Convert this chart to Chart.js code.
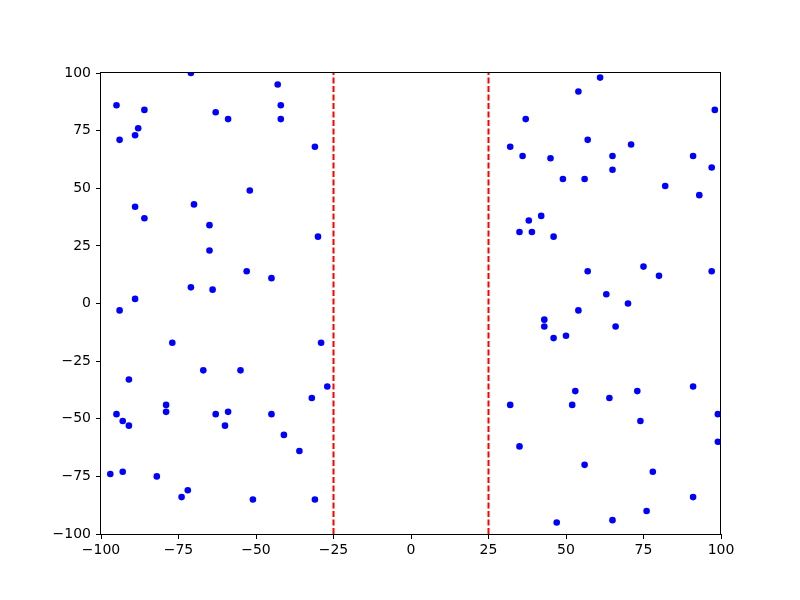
<!DOCTYPE html>
<html>
<head>
<meta charset="utf-8">
<script src="https://cdn.jsdelivr.net/npm/chart.js@4/dist/chart.umd.min.js"></script>
<style>
  html, body { margin: 0; padding: 0; background: #fff; }
  #wrap { width: 800px; height: 600px; }
</style>
</head>
<body>
<div id="wrap"><canvas id="plot" width="800" height="600"></canvas></div>
<script>
// scatter points
const xs = [
  -71, -43, -95, -86, -63, -42, -42, -59, -88, -89, -94, -31, -52, -70, -89, -86, -65,
  -30, -65, -53, -45, -71, -64, -89, -94, -77, -29, -67, -55, -91, -27, -32, -79, -79,
  -95, -63, -59, -45, -93, -91, -60, -41, -36, -97, -93, -82, -72, -74, -51, -31,
  61, 54, 98, 37, 57, 32, 71, 36, 45, 65, 91, 65, 97, 49, 56, 82, 93, 42, 38, 35, 39,
  46, 75, 57, 97, 80, 63, 70, 54, 43, 43, 66, 50, 46, 91, 53, 73, 64, 32, 52, 99, 74,
  99, 35, 56, 78, 91, 76, 65, 47
];
const ys = [
  100, 95, 86, 84, 83, 86, 80, 80, 76, 73, 71, 68, 49, 43, 42, 37, 34,
  29, 23, 14, 11, 7, 6, 2, -3, -17, -17, -29, -29, -33, -36, -41, -44, -47,
  -48, -48, -47, -48, -51, -53, -53, -57, -64, -74, -73, -75, -81, -84, -85, -85,
  98, 92, 84, 80, 71, 68, 69, 64, 63, 64, 64, 58, 59, 54, 54, 51, 47, 38, 36, 31, 31,
  29, 16, 14, 14, 12, 4, 0, -3, -7, -10, -10, -14, -15, -36, -38, -38, -41, -44, -44, -48, -51,
  -60, -62, -70, -73, -84, -90, -94, -95
];

// dashed vertical markers
const vlines = [-25, 25];

const xTicks = [-100, -75, -50, -25, 0, 25, 50, 75, 100];
const yTicks = [-100, -75, -50, -25, 0, 25, 50, 75, 100];

const points = xs.map(function(x, i) { return {x: x, y: ys[i]}; });

const lineSets = vlines.map(function(v) {
  return {
    data: [{x: v, y: -100}, {x: v, y: 100}],
    showLine: true,
    borderColor: '#ff0000',
    borderWidth: 2,
    borderDash: [6, 2.5],
    pointRadius: 0,
    clip: 0
  };
});

const fontSpec = {family: 'DejaVu Sans', size: 14};

function minus(v) {
  return String(v).replace('-', '\u2212');
}

// frame round the plot area, like the axes box
const frame = {
  id: 'frame',
  afterDraw(chart) {
    const a = chart.chartArea;
    const ctx = chart.ctx;
    ctx.save();
    ctx.strokeStyle = '#000';
    ctx.lineWidth = 1;
    ctx.strokeRect(Math.round(a.left) - 0.5, Math.round(a.top) - 0.5,
                   Math.round(a.right - a.left), Math.round(a.bottom - a.top) + 1);
    ctx.restore();
  }
};

const config = {
  type: 'scatter',
  data: {
    datasets: [{
      data: points,
      backgroundColor: '#0000ff',
      borderWidth: 0,
      pointRadius: 3.3,
      clip: 0
    }].concat(lineSets)
  },
  options: {
    responsive: false,
    animation: false,
    layout: {padding: {top: 73, right: 79, left: 1, bottom: 0}},
    plugins: {legend: {display: false}, tooltip: {enabled: false}},
    scales: {
      x: {
        type: 'linear', min: -100, max: 100,
        afterBuildTicks: function(s) { s.ticks = xTicks.map(function(v) { return {value: v}; }); },
        afterFit: function(s) { s.height = 66; },
        grid: {drawOnChartArea: false, tickLength: 5, tickColor: '#000'},
        border: {display: false},
        ticks: {color: '#000', font: fontSpec, padding: 3, maxRotation: 0,
                callback: function(v) { return minus(v); }}
      },
      y: {
        type: 'linear', min: -100, max: 100,
        afterBuildTicks: function(s) { s.ticks = yTicks.map(function(v) { return {value: v}; }); },
        afterFit: function(s) { s.width = 100; },
        grid: {drawOnChartArea: false, tickLength: 5, tickColor: '#000'},
        border: {display: false},
        ticks: {color: '#000', font: fontSpec, padding: 5,
                callback: function(v) { return minus(v); }}
      }
    }
  },
  plugins: [frame]
};

const myChart = new Chart(document.getElementById('plot'), config);
</script>
</body>
</html>
